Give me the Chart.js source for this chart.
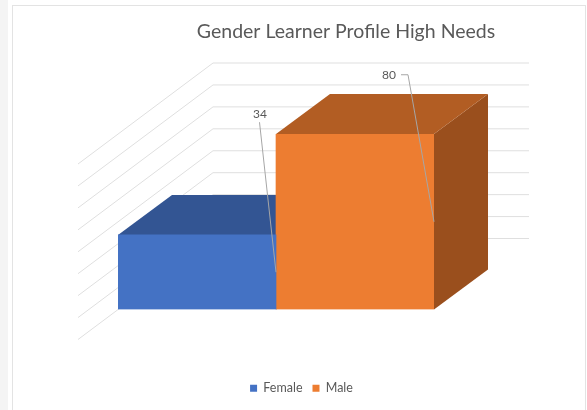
<!DOCTYPE html>
<html>
<head>
<meta charset="utf-8">
<title>Gender Learner Profile High Needs</title>
<script src="https://cdn.jsdelivr.net/npm/chart.js@4"></script>
<style>
  html, body { margin: 0; padding: 0; background: #fff; }
  #strip { position: absolute; left: 0; top: 0; width: 8px; height: 410px; background: #f4f4f4; }
  #frame { position: absolute; left: 12px; top: 5px; width: 572px; height: 410px; border: 1px solid #e3e3e3; }
  #wrap { position: absolute; left: 0; top: 0; width: 587px; height: 410px; overflow: hidden; }
  canvas { position: absolute; left: 0; top: 0; }
</style>
</head>
<body>
<div id="wrap">
  <div id="strip"></div>
  <div id="frame"></div>
  <canvas id="chart" width="587" height="410"></canvas>
</div>
<script>
var categories = ["High Needs"];
var seriesNames = ["Female", "Male"];
var femaleValues = [34];
var maleValues = [80];
var gridTicks = [0, 10, 20, 30, 40, 50, 60, 70, 80];

var frontColors = ["#4472C4", "#ED7D31"];
var topColors = ["#335593", "#B25D23"];
var sideColors = ["#2E4D85", "#9A4F1D"];
var textColor = "#595959";

// fake perspective, offsets from the front plane of the bars
var barDepth = { x: 54, y: -40 };
var wallBack = { x: 95, y: -71 };
var wallFront = { x: -40, y: 30 };

// label text centre, leader start and optional elbow, relative to the bar anchor
var labelSpots = [
    { textX: -16, textY: -158, lineX: -16.5, lineY: -150 },
    { textX: -45, textY: -147, lineX: -26, lineY: -147, elbowX: -33 }
];

function poly(ctx, pts, color) {
    ctx.fillStyle = color;
    ctx.beginPath();
    pts.forEach(function(p, i) {
        if (i == 0) ctx.moveTo(p[0], p[1]); else ctx.lineTo(p[0], p[1]);
    });
    ctx.closePath();
    ctx.fill();
}

var fake3d = {
    id: "fake3d",
    afterLayout: function(chart) {
        // title and legend sit off the plot centre in the original
        var t = chart.titleBlock;
        var dt = 346 - (t.left + t.right) / 2;
        t.left += dt; t.right += dt;
        var l = chart.legend;
        var dl = 301.5 - (l.left + l.right) / 2;
        var h = l.bottom - l.top;
        l.left += dl; l.right += dl;
        l.top = 372; l.bottom = 372 + h;
    },
    beforeDatasetsDraw: function(chart) {
        var ctx = chart.ctx, area = chart.chartArea, y = chart.scales.y;
        ctx.save();
        ctx.strokeStyle = "#dfdfdf";
        ctx.lineWidth = 1;
        y.ticks.forEach(function(tick) {
            var py = y.getPixelForValue(tick.value);
            ctx.beginPath();
            ctx.moveTo(area.left + wallFront.x, py + wallFront.y);
            ctx.lineTo(area.left + wallBack.x, py + wallBack.y);
            ctx.lineTo(area.right + wallBack.x, py + wallBack.y);
            ctx.stroke();
        });
        chart.data.datasets.forEach(function(ds, i) {
            var bar = chart.getDatasetMeta(i).data[0];
            var x0 = bar.x - bar.width / 2, x1 = bar.x + bar.width / 2;
            var top = bar.y, base = bar.base;
            poly(ctx, [[x1, top], [x1 + barDepth.x, top + barDepth.y], [x1 + barDepth.x, base + barDepth.y], [x1, base]], sideColors[i]);
            poly(ctx, [[x0, top], [x0 + barDepth.x, top + barDepth.y], [x1 + barDepth.x, top + barDepth.y], [x1, top]], topColors[i]);
        });
        ctx.restore();
    },
    afterDatasetsDraw: function(chart) {
        var ctx = chart.ctx;
        ctx.save();
        ctx.font = "12px Lato";
        ctx.textAlign = "center";
        ctx.textBaseline = "middle";
        chart.data.datasets.forEach(function(ds, i) {
            var bar = chart.getDatasetMeta(i).data[0];
            var ax = bar.x + bar.width / 2, ay = (bar.y + bar.base) / 2;
            var s = labelSpots[i];
            ctx.strokeStyle = "#a6a6a6";
            ctx.lineWidth = 1;
            ctx.beginPath();
            if (s.elbowX !== undefined) {
                ctx.moveTo(ax + s.elbowX, ay + s.lineY);
                ctx.lineTo(ax + s.lineX, ay + s.lineY);
            } else {
                ctx.moveTo(ax + s.lineX, ay + s.lineY);
            }
            ctx.lineTo(ax, ay);
            ctx.stroke();
            ctx.fillStyle = textColor;
            ctx.fillText(String(ds.data[0]), ax + s.textX, ay + s.textY);
        });
        ctx.restore();
    }
};

var ctx = document.getElementById("chart");
var chart = new Chart(ctx, {
    type: "bar",
    data: {
        labels: categories,
        datasets: [
            { label: seriesNames[0], data: femaleValues, backgroundColor: frontColors[0] },
            { label: seriesNames[1], data: maleValues, backgroundColor: frontColors[1] }
        ]
    },
    plugins: [fake3d],
    options: {
        responsive: false,
        animation: false,
        barPercentage: 1,
        categoryPercentage: 1,
        layout: { padding: { left: 110, right: 153, top: 20, bottom: 60 } },
        scales: {
            x: {
                grid: { display: false },
                border: { display: false },
                ticks: { display: false }
            },
            y: {
                min: 0,
                max: 80,
                afterBuildTicks: function(axis) {
                    axis.ticks = gridTicks.map(function(v) { return { value: v }; });
                },
                grid: { display: false },
                border: { display: false },
                ticks: { display: false }
            }
        },
        plugins: {
            tooltip: { enabled: false },
            title: {
                display: true,
                text: "Gender Learner Profile High Needs",
                color: textColor,
                font: { family: "Lato", size: 19.5, weight: "normal", lineHeight: 1.2 },
                padding: { top: 0, bottom: 90.6 }
            },
            legend: {
                position: "bottom",
                labels: {
                    color: textColor,
                    boxWidth: 7,
                    boxHeight: 7,
                    padding: 10,
                    font: { family: "Lato", size: 12.5 }
                }
            }
        }
    }
});
</script>
</body>
</html>
